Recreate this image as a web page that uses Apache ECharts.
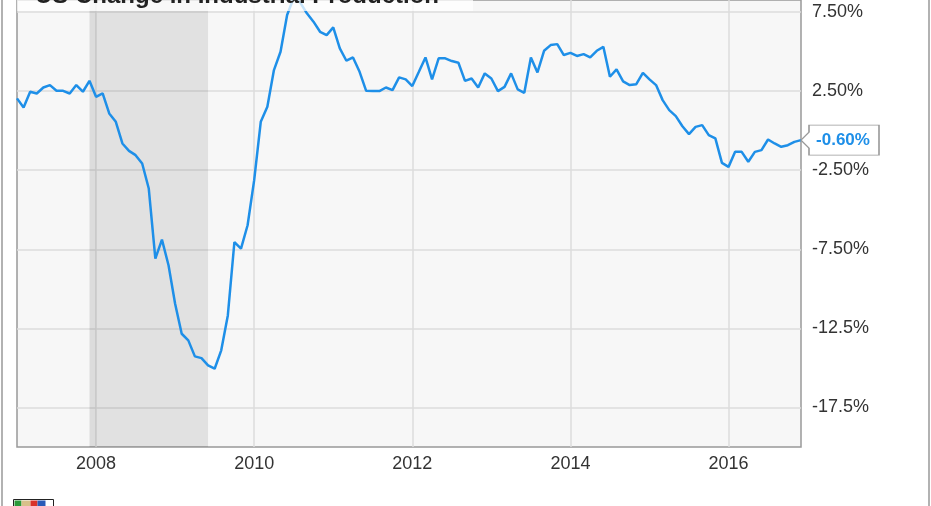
<!DOCTYPE html>
<html>
<head>
<meta charset="utf-8">
<script src="https://cdn.jsdelivr.net/npm/echarts@6/dist/echarts.min.js"></script>
<style>
  html, body { margin: 0; padding: 0; background: #fff; }
  #main { width: 931px; height: 506px; }
</style>
</head>
<body>
<div id="main"></div>
<script>
// 年同比变化（%），按月
const ip2007 = [2.04, 1.47, 2.46, 2.35, 2.73, 2.88, 2.52, 2.52, 2.35, 2.88, 2.46, 3.15];
const ip2008 = [2.14, 2.35, 1.09, 0.56, -0.81, -1.28, -1.55, -2.08, -3.66, -8.09, -6.89, -8.51];
const ip2009 = [-10.94, -12.84, -13.26, -14.27, -14.38, -14.84, -15.05, -13.89, -11.68, -7.04, -7.46, -5.98];
const ip2010 = [-3.13, 0.56, 1.51, 3.83, 4.99, 7.31, 8.4, 8.1, 7.42, 6.89, 6.25, 6.04];
const ip2011 = [6.53, 5.2, 4.42, 4.63, 3.72, 2.52, 2.5, 2.5, 2.73, 2.56, 3.37, 3.24];
const ip2012 = [2.82, 3.72, 4.63, 3.24, 4.57, 4.57, 4.40, 4.29, 3.15, 3.30, 2.73, 3.62];
const ip2013 = [3.30, 2.5, 2.77, 3.62, 2.61, 2.39, 4.63, 3.68, 5.05, 5.41, 5.47, 4.78];
const ip2014 = [4.92, 4.72, 4.84, 4.63, 5.05, 5.3, 3.41, 3.87, 3.12, 2.88, 2.94, 3.66];
const ip2015 = [3.24, 2.88, 1.93, 1.30, 0.92, 0.28, -0.22, 0.24, 0.35, -0.28, -0.49, -2.04];
const ip2016 = [-2.29, -1.34, -1.34, -1.97, -1.34, -1.23, -0.56, -0.81, -1.02, -0.92, -0.71, -0.60];

const startYear = 2007;
const endYear = 2016;
const yTicks = [-17.5, -12.5, -7.5, -2.5, 2.5, 7.5];
const recession = ['2007-12', '2009-06'];
const titleText = 'US Change in Industrial Production';

const values = [].concat(ip2007, ip2008, ip2009, ip2010, ip2011, ip2012, ip2013, ip2014, ip2015, ip2016);

// 月份类目
const months = [];
for (let y = startYear; y <= endYear; y++) {
    for (let m = 1; m <= 12; m++) {
        months.push(y + '-' + (m < 10 ? '0' + m : m));
    }
}

const lastIdx = values.length - 1;
const lastVal = values[lastIdx];

const font = 'Arial, "Liberation Sans", sans-serif';
const lineColor = '#1e8fe8';

// 偶数年一月显示刻度
const evenYearJan = function (idx, val) {
    return val.slice(5) === '01' && parseInt(val.slice(0, 4)) % 2 === 0;
};

const chart = echarts.init(document.getElementById('main'));

const option = {
    animation: false,
    title: {
        text: titleText,
        left: 17,
        top: -21,
        padding: [5, 34, 3, 18],
        backgroundColor: 'rgba(255,255,255,0.75)',
        textStyle: { fontFamily: font, fontSize: 24, fontWeight: 'bold', color: '#222' }
    },
    grid: {
        left: 17,
        right: 130,
        top: 0,
        bottom: 59,
        show: true,
        backgroundColor: '#f7f7f7',
        borderColor: '#999',
        borderWidth: 1.5
    },
    xAxis: {
        type: 'category',
        data: months,
        boundaryGap: false,
        axisLine: { show: false },
        axisTick: { show: false },
        axisLabel: {
            interval: evenYearJan,
            formatter: (v) => v.slice(0, 4),
            color: '#333',
            fontFamily: font,
            fontSize: 18,
            margin: 8
        },
        splitLine: {
            show: true,
            interval: evenYearJan,
            lineStyle: { color: '#dcdcdc', width: 1.5 }
        }
    },
    yAxis: {
        type: 'value',
        position: 'right',
        min: -20,
        max: 8.26,
        axisLine: { show: false },
        axisTick: { show: false, customValues: yTicks },
        axisLabel: {
            customValues: yTicks,
            formatter: (v) => v.toPrecision(3) + '%',
            color: '#333',
            fontFamily: font,
            fontSize: 18,
            margin: 11
        },
        splitLine: { show: true, lineStyle: { color: '#dcdcdc', width: 1.5 } }
    },
    series: [{
        type: 'line',
        data: values,
        symbol: 'none',
        lineStyle: { color: lineColor, width: 2.5 },
        itemStyle: { color: lineColor },
        markArea: {
            silent: true,
            itemStyle: { color: 'rgba(0,0,0,0.085)' },
            data: [
                [{ xAxis: recession[0] }, { xAxis: recession[1] }],
                [{ xAxis: recession[0], itemStyle: { color: 'rgba(0,0,0,0.02)' } }, { xAxis: months[12] }]
            ]
        },
        markPoint: {
            silent: true,
            symbol: 'path://M0,15L8,7L8,0L78,0L78,30L8,30L8,23Z',
            symbolSize: [78, 30],
            symbolOffset: [39, 0],
            itemStyle: { color: '#fff', borderColor: '#999', borderWidth: 1 },
            label: {
                show: true,
                position: 'inside',
                offset: [3, 0],
                formatter: () => lastVal.toFixed(2) + '%',
                color: lineColor,
                fontFamily: font,
                fontSize: 17,
                fontWeight: 'bold'
            },
            data: [{ coord: [months[lastIdx], lastVal], value: lastVal }]
        }
    }],
    graphic: [
        {
            type: 'rect',
            silent: true,
            shape: { x: 2, y: -10, width: 927, height: 600 },
            style: { fill: 'none', stroke: '#999', lineWidth: 1.5 }
        },
        {
            type: 'group',
            left: 13,
            top: 499,
            children: [
                { type: 'rect', shape: { x: 0, y: 0, width: 40, height: 9 }, style: { fill: '#fff', stroke: '#222', lineWidth: 1 } },
                { type: 'rect', shape: { x: 1, y: 1, width: 7, height: 8 }, style: { fill: '#2a9a3a' } },
                { type: 'rect', shape: { x: 8, y: 1, width: 9, height: 8 }, style: { fill: '#d8c08a' } },
                { type: 'rect', shape: { x: 17, y: 1, width: 7, height: 8 }, style: { fill: '#d8322a' } },
                { type: 'rect', shape: { x: 24, y: 1, width: 8, height: 8 }, style: { fill: '#2a5bb8' } }
            ]
        }
    ]
};

chart.setOption(option);

window.addEventListener('resize', function () {
    chart.resize();
});
</script>
</body>
</html>
